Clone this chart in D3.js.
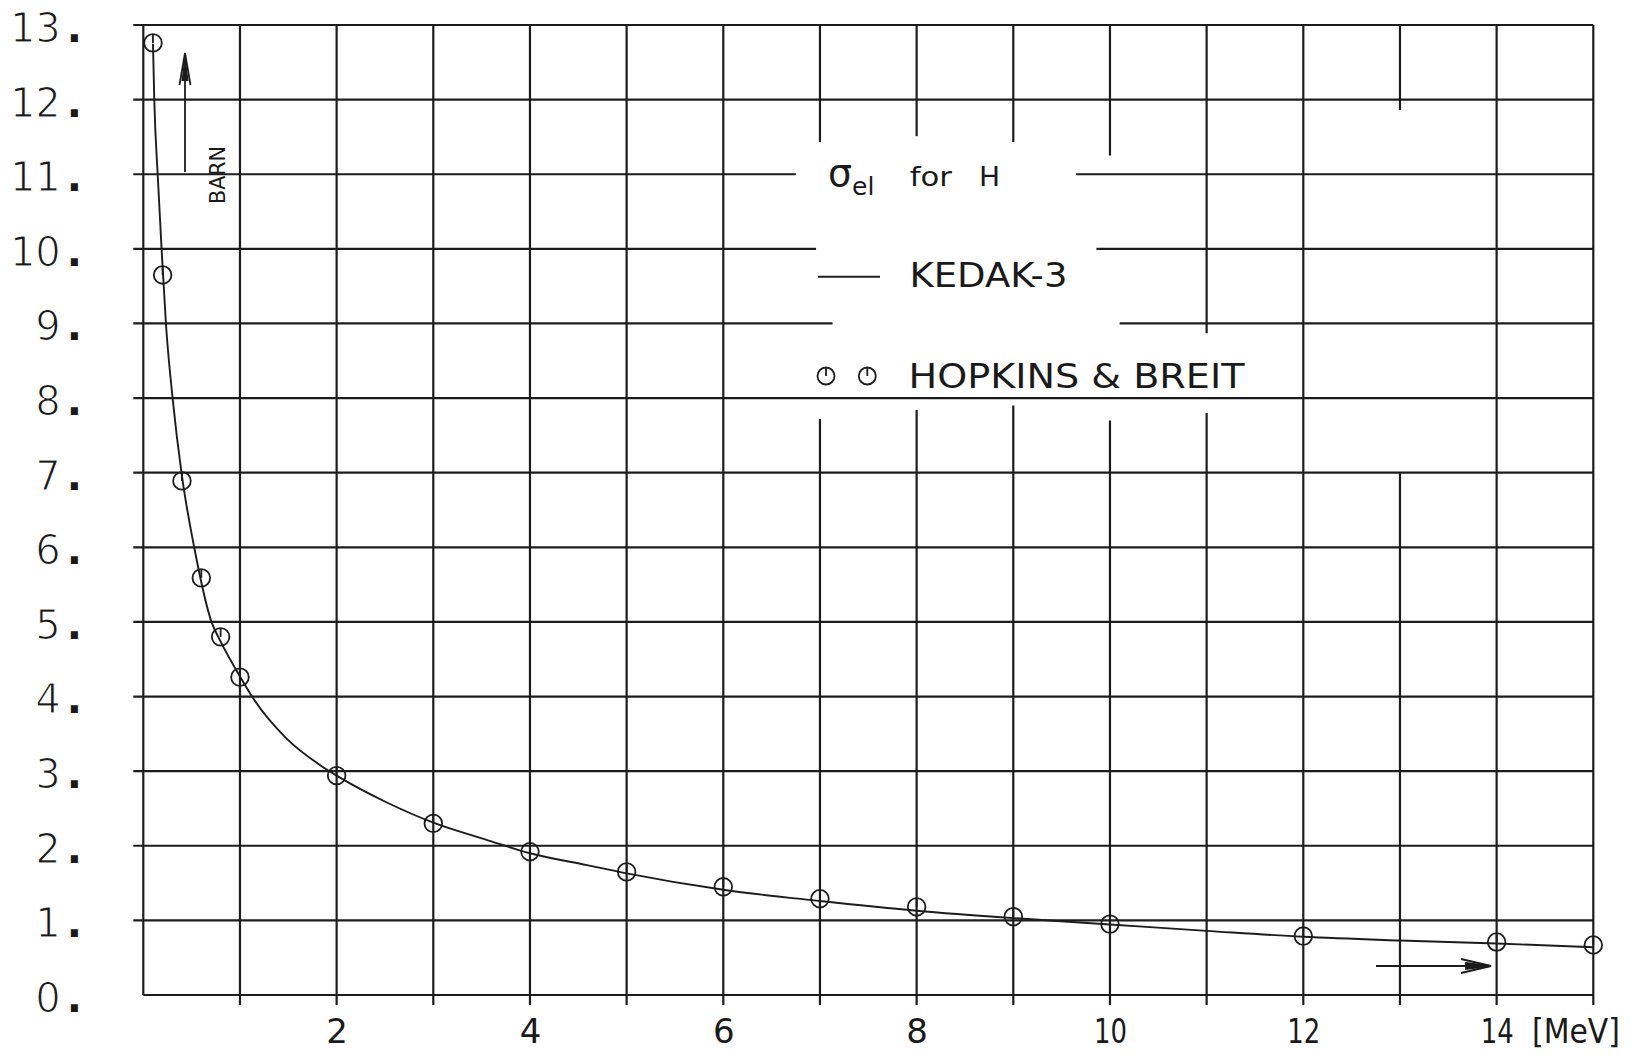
<!DOCTYPE html>
<html>
<head>
<meta charset="utf-8">
<script src="https://cdn.jsdelivr.net/npm/d3@7"></script>
<style>
  html, body { margin: 0; padding: 0; background: #fff; }
  svg { display: block; }
  text { font-family: "DejaVu Sans", sans-serif; fill: #1a1a1a; }
  .thin { stroke: #fff; stroke-width: 1.2px; paint-order: normal; }
</style>
</head>
<body>
<svg id="chart" width="1631" height="1055"></svg>
<script>
// Elastic scattering cross section of hydrogen: energy in MeV, sigma in barn.
const energyGrid = [0, 1, 2, 3, 4, 5, 6, 7, 8, 9, 10, 11, 12, 13, 14, 15];
const energyTickValues = [2, 4, 6, 8, 10, 12, 14];
const energyTickLabels = ["2", "4", "6", "8", "10", "12", "14"];
const sigmaGrid = [0, 1, 2, 3, 4, 5, 6, 7, 8, 9, 10, 11, 12, 13];
const sigmaTickLabels = ["0.", "1.", "2.", "3.", "4.", "5.", "6.", "7.", "8.", "9.", "10.", "11.", "12.", "13."];
const energyUnit = "[MeV]";
const sigmaUnit = "BARN";

// KEDAK-3 evaluated curve
const kedakEnergy = [0.1, 0.114, 0.149, 0.19, 0.235, 0.304, 0.397, 0.528, 0.708, 0.795, 1.0, 1.14,
  1.48, 1.83, 2.0, 2.52, 3.0, 3.55, 4.0, 4.59, 5.0, 6.0, 7.0, 8.0, 9.0, 10.0, 11.0, 12.0, 13.0, 14.0, 15.0];
const kedakSigma = [12.75, 11.98, 10.99, 9.98, 8.98, 7.99, 6.98, 5.99, 4.99, 4.75, 4.27, 3.97,
  3.44, 3.08, 2.94, 2.58, 2.31, 2.08, 1.90, 1.74, 1.63, 1.41, 1.26, 1.13, 1.03, 0.945, 0.86, 0.78, 0.73, 0.69, 0.64];

// Hopkins & Breit points
const hopkinsEnergy = [0.1, 0.2, 0.4, 0.6, 0.8, 1, 2, 3, 4, 5, 6, 7, 8, 9, 10, 12, 14, 15];
const hopkinsSigma = [12.76, 9.65, 6.89, 5.59, 4.80, 4.26, 2.94, 2.30, 1.92, 1.65, 1.45, 1.29, 1.18, 1.05, 0.95, 0.79, 0.71, 0.67];

// Legend texts
const titleSymbol = "σ";
const titleSub = "el";
const titleRest = ["for", "H"];
const seriesNames = ["KEDAK-3", "HOPKINS & BREIT"];

// Grid segments left out behind the legend block: [grid value, from, to]
const verticalGaps = [[7, 7.72, 11.43], [8, 7.84, 11.51], [9, 7.90, 11.43], [10, 7.70, 11.25], [11, 7.80, 8.87], [13, 7.01, 11.86]];
const horizontalGaps = [[11, 6.75, 9.65], [10, 6.96, 9.86], [9, 7.13, 10.10]];

const svg = d3.select("#chart");
const ink = "#1c1c1c";

const x = d3.scaleLinear().domain([0, 15]).range([143.3, 1593.3]);
const y = d3.scaleLinear().domain([0, 13]).range([995, 25]);
const tickOut = 10;

function segments(lo, hi, gaps) {
  const out = [];
  let cur = lo;
  gaps.slice().sort((a, b) => a[0] - b[0]).forEach(([a, b]) => {
    if (a > cur) out.push([cur, a]);
    cur = Math.max(cur, b);
  });
  if (cur < hi) out.push([cur, hi]);
  return out;
}

// ---- grid ----
const grid = svg.append("g").attr("stroke", ink).attr("stroke-width", 2.2).attr("fill", "none");
energyGrid.forEach(e => {
  const gaps = verticalGaps.filter(g => g[0] === e).map(g => [g[1], g[2]]);
  segments(0, 13, gaps).forEach(([a, b]) => {
    grid.append("line")
      .attr("x1", x(e)).attr("x2", x(e))
      .attr("y1", a === 0 && e > 0 ? y(a) + tickOut : y(a))
      .attr("y2", y(b));
  });
});
sigmaGrid.forEach(s => {
  const gaps = horizontalGaps.filter(g => g[0] === s).map(g => [g[1], g[2]]);
  segments(0, 15, gaps).forEach(([a, b]) => {
    grid.append("line")
      .attr("y1", y(s)).attr("y2", y(s))
      .attr("x1", a === 0 && s > 0 ? x(a) - tickOut : x(a))
      .attr("x2", x(b));
  });
});

// ---- axes (labels only) ----
const yAxis = svg.append("g")
  .attr("transform", "translate(82,0)")
  .call(d3.axisLeft(y).tickValues(sigmaGrid).tickSize(0).tickPadding(0)
    .tickFormat((d, i) => sigmaTickLabels[i]));
yAxis.select(".domain").remove();
yAxis.selectAll(".tick text").each(function (d, i) {
  const label = sigmaTickLabels[i];
  const t = d3.select(this)
    .attr("font-family", null).attr("font-size", null).attr("fill", null)
    .attr("class", "thin")
    .style("font-size", "40px")
    .attr("x", 0).attr("dy", "0.41em")
    .attr("text-anchor", "end")
    .text(null);
  t.append("tspan").text(label.slice(0, -1));
  t.append("tspan").attr("dx", 6).style("stroke", "none").style("font-weight", "bold").text(".");
});

const xAxis = svg.append("g")
  .attr("transform", `translate(0,${y(0)})`)
  .call(d3.axisBottom(x).tickValues(energyTickValues).tickSize(0)
    .tickFormat((d, i) => energyTickLabels[i]));
xAxis.select(".domain").remove();
xAxis.selectAll(".tick text")
  .attr("font-family", null).attr("font-size", null).attr("fill", null)
  .style("font-size", "34px")
  .attr("y", 48).attr("dy", 0)
  .attr("text-anchor", "middle")
  .each(function (d, i) {
    if (energyTickLabels[i].length > 1) {
      d3.select(this).attr("textLength", 33).attr("lengthAdjust", "spacingAndGlyphs");
    }
  });

svg.append("text")
  .attr("x", 1532).attr("y", y(0) + 48)
  .style("font-size", "34px")
  .attr("textLength", 88).attr("lengthAdjust", "spacingAndGlyphs")
  .text(energyUnit);

// ---- unit arrows ----
const arrows = svg.append("g").attr("stroke", ink).attr("fill", "none").attr("stroke-width", 1.8);
arrows.append("line").attr("x1", 185).attr("x2", 185).attr("y1", 172).attr("y2", 54);
arrows.append("path").attr("d", "M179.5,85 L185,53 L190.5,85");
arrows.append("path").attr("d", "M182.5,80 L185,60 L187.5,80 Z").attr("fill", ink);
svg.append("text")
  .attr("transform", "translate(225,175) rotate(-90)")
  .attr("text-anchor", "middle")
  .style("font-size", "22px")
  .attr("textLength", 58).attr("lengthAdjust", "spacingAndGlyphs")
  .text(sigmaUnit);

arrows.append("line").attr("x1", 1376).attr("x2", 1488).attr("y1", 966).attr("y2", 966);
arrows.append("path").attr("d", "M1461,959 L1491,966 L1461,973");
arrows.append("path").attr("d", "M1466,963 L1489,966 L1466,969 Z").attr("fill", ink);

// ---- KEDAK-3 curve ----
const kedak = kedakEnergy.map((e, i) => [e, kedakSigma[i]]);
svg.append("path")
  .datum(kedak)
  .attr("fill", "none").attr("stroke", ink).attr("stroke-width", 1.9)
  .attr("d", d3.line().x(d => x(d[0])).y(d => y(d[1])).curve(d3.curveMonotoneX));

// ---- Hopkins & Breit markers ----
function marker(sel, r) {
  sel.append("circle").attr("r", r);
  sel.append("line").attr("x1", 0).attr("x2", 0).attr("y1", -r).attr("y2", 0);
}
const hopkins = hopkinsEnergy.map((e, i) => [e, hopkinsSigma[i]]);
svg.append("g").attr("fill", "none").attr("stroke", ink).attr("stroke-width", 1.8)
  .selectAll("g").data(hopkins).join("g")
  .attr("transform", d => `translate(${x(d[0])},${y(d[1])})`)
  .each(function () { marker(d3.select(this), 8.8); });

// ---- legend ----
const title = svg.append("text").attr("x", 828).attr("y", 185.5);
title.append("tspan").style("font-size", "38px").text(titleSymbol);
title.append("tspan").style("font-size", "25px").attr("dy", 9).text(titleSub);
title.append("tspan").style("font-size", "27px").attr("x", 900).attr("dy", -9)
  .attr("textLength", 52).attr("lengthAdjust", "spacingAndGlyphs").text(" " + titleRest[0]);
title.append("tspan").style("font-size", "27px").attr("x", 970)
  .attr("textLength", 30).attr("lengthAdjust", "spacingAndGlyphs").text(" " + titleRest[1]);

const legend = svg.append("g");
legend.append("line").attr("x1", 818).attr("x2", 880).attr("y1", 276.7).attr("y2", 276.7)
  .attr("stroke", ink).attr("stroke-width", 2);
legend.append("text").attr("x", 909.5).attr("y", 286.7).style("font-size", "34px")
  .attr("textLength", 158).attr("lengthAdjust", "spacingAndGlyphs").text(seriesNames[0]);

const lm = legend.append("g").attr("fill", "none").attr("stroke", ink).attr("stroke-width", 1.8);
[826, 867.3].forEach(cx => {
  const g = lm.append("g").attr("transform", `translate(${cx},376)`);
  marker(g, 8.5);
});
legend.append("text").attr("x", 908.5).attr("y", 388.3).style("font-size", "34px")
  .attr("textLength", 336).attr("lengthAdjust", "spacingAndGlyphs").text(seriesNames[1]);
</script>
</body>
</html>
